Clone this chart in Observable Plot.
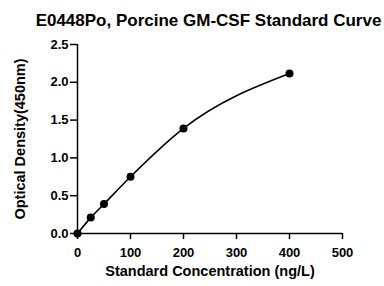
<!DOCTYPE html>
<html>
<head>
<meta charset="utf-8">
<script src="https://cdn.jsdelivr.net/npm/d3@7"></script>
<script src="https://cdn.jsdelivr.net/npm/@observablehq/plot@0.6"></script>
<style>
  body { margin: 0; background: #fff; }
</style>
</head>
<body>
<div id="wrap"></div>
<script>
const title = "E0448Po, Porcine GM-CSF Standard Curve";
const concentration = [0, 25, 50, 100, 200, 400];
const od = [0.0, 0.21, 0.39, 0.75, 1.39, 2.115];
const xTicks = [0, 100, 200, 300, 400, 500];
const yTicks = [0, 0.5, 1.0, 1.5, 2.0, 2.5];
const xLabel = "Standard Concentration (ng/L)";
const yLabel = "Optical Density(450nm)";

const data = concentration.map((c, i) => ({x: c, y: od[i]}));

const chart = Plot.plot({
  width: 384,
  height: 286,
  marginLeft: 77,
  marginRight: 42,
  marginTop: 44,
  marginBottom: 53,
  style: {fontFamily: "'Liberation Sans', Arial, sans-serif", color: "#000", background: "#fff"},
  x: {domain: [0, 500]},
  y: {domain: [0, 2.5]},
  marks: [
    Plot.axisX({ticks: xTicks, tickSize: 6, tickPadding: 8, fontSize: 13, fontWeight: "bold", strokeWidth: 1.5, label: null}),
    Plot.axisY({ticks: yTicks, tickSize: 7, tickPadding: 2, fontSize: 13, fontWeight: "bold", strokeWidth: 1.5, tickFormat: d3.format(".1f"), label: null}),
    Plot.ruleY([0], {stroke: "#000", strokeWidth: 1.5}),
    Plot.ruleX([0], {stroke: "#000", strokeWidth: 1.5}),
    Plot.line(data, {x: "x", y: "y", curve: "monotone-x", stroke: "#000", strokeWidth: 1.6}),
    Plot.dot(data, {x: "x", y: "y", r: 4, fill: "#000"}),
    Plot.text([title], {frameAnchor: "top", textAnchor: "middle", dx: -1.5, dy: -30.5, fontSize: 17, fontWeight: "bold", fill: "#000"}),
    Plot.text([xLabel], {frameAnchor: "bottom", dy: 42, fontSize: 14.5, fontWeight: "bold", fill: "#000"}),
    Plot.text([yLabel], {frameAnchor: "left", textAnchor: "middle", dx: -57, rotate: -90, fontSize: 14.5, fontWeight: "bold", fill: "#000"})
  ]
});
document.getElementById("wrap").append(chart);
</script>
</body>
</html>
